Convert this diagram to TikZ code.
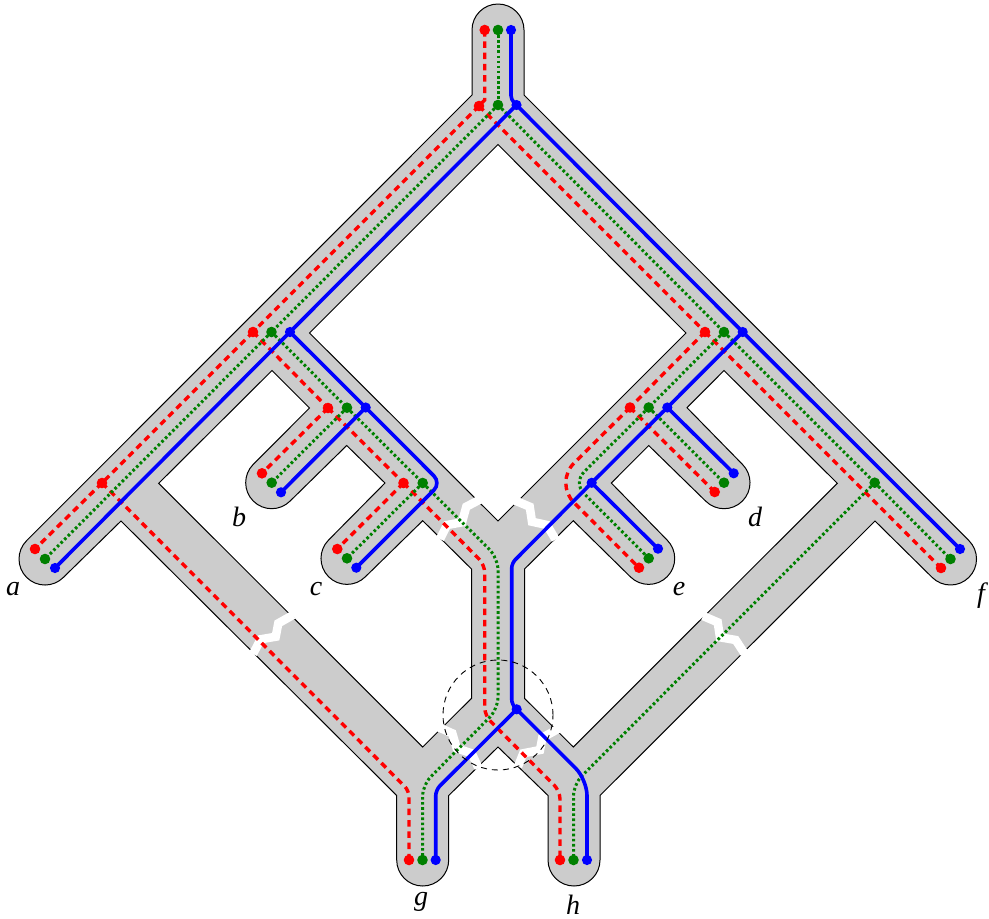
\documentclass[tikz,border=0pt]{standalone}
\usepackage{fontspec}
\setmainfont{Liberation Serif}
\definecolor{bandgray}{HTML}{CCCCCC}
\definecolor{dgreen}{HTML}{008000}
\tikzset{
  band/.style={fill=bandgray,draw=black,line width=1pt,even odd rule,line join=miter},
  tear/.style={draw=white,line width=8.5pt,line join=miter},
  redline/.style={draw=red,line width=3.4pt,dash pattern=on 6.5pt off 4.8pt},
  greenline/.style={draw=dgreen,line width=3pt,dash pattern=on 2.6pt off 2.5pt},
  blueline/.style={draw=blue,line width=3.6pt},
  rdot/.style={circle,fill=red,inner sep=0pt,minimum size=10.6pt},
  gdot/.style={circle,fill=dgreen,inner sep=0pt,minimum size=10.6pt},
  bdot/.style={circle,fill=blue,inner sep=0pt,minimum size=10.2pt},
  lab/.style={font=\fontsize{28}{32}\selectfont\itshape,inner sep=0pt},
  zoomring/.style={draw=black,line width=0.9pt,dash pattern=on 6pt off 5pt}
}
\begin{document}
\begin{tikzpicture}[x=1pt,y=1pt,yscale=-1]
\useasboundingbox (0,0) rectangle (989,919);
% grey network
\path[band]
  (472,30) arc[start angle=180,end angle=360,radius=26]
  -- (524,95) -- (968.9,540.6) arc[start angle=-45,end angle=135,radius=26]
  -- (875,521) -- (600,795.5) -- (600,860) arc[start angle=0,end angle=180,radius=26]
  -- (548,795.5) -- (498,747) -- (448.7,795.5) -- (448.7,860) arc[start angle=0,end angle=180,radius=26]
  -- (396.7,795.5) -- (121,521) -- (63.4,577.4) arc[start angle=45,end angle=225,radius=26]
  -- (472,95) -- cycle
  (498,144.5) -- (686,333) -- (498,521) -- (309.5,333) -- cycle
  (272,370.5) -- (309.5,408) -- (253.3,464.3) arc[start angle=225,end angle=45,radius=26]
  -- (346.7,445.5) -- (385,483) -- (328.6,540) arc[start angle=225,end angle=45,radius=26]
  -- (422.7,520.7) -- (471.5,569) -- (471.5,698.3) -- (422.7,747) -- (158.7,483.3) -- cycle
  (724,370.5) -- (687,407.7) -- (742.4,464.3) arc[start angle=-45,end angle=135,radius=26]
  -- (648.7,445.5) -- (611.3,483) -- (667.1,540) arc[start angle=-45,end angle=135,radius=26]
  -- (573.3,520.7) -- (524.5,569) -- (524.5,698.3) -- (573.3,747) -- (837.3,483.3) -- cycle;
% tears
\draw[tear] (253,654) -- (260.7,639.3) -- (275.7,636.7) -- (278.3,623.3) -- (293,615);
\draw[tear] (703,616) -- (717.7,622.3) -- (720,637.3) -- (735.7,640) -- (744.5,653.5);
\draw[tear] (440,539) -- (447,525) -- (462,522.3) -- (466.3,506.7) -- (480,499.5);
\draw[tear] (515,500.5) -- (529.7,506.7) -- (532,521.7) -- (547,525) -- (555.5,539.5);
\draw[tear] (438,727) -- (452.3,733.3) -- (456.7,748.3) -- (471.7,753.3) -- (478.5,768);
\draw[tear] (518,766.5) -- (523.3,753.3) -- (540,750) -- (542.3,737.7) -- (558,729);
% point positions
\foreach \n/\x/\y in {rT/484.7/30,rJ/479/106,rL/253/332,rX/102/483,rB/328/408,rC/403.5/483,rR/705/332,rD/630/407.5,
  ra/35/549,rb/262/473.3,rc/337.3/549,rd/714.7/492,re/639/567.7,rf/941/568,rg/409/860,rh/560/860,
  gT/498/30,gJ/498/105,gL/271.5/332,gB/347/407.7,gC/422.7/483,gR/724/332,gD/648.7/407.5,gF/874.7/482.7,
  ga/45/559,gb/271.7/482.7,gc/347/558.3,gd/724/482.7,ge/648.7/558.3,gf/950.5/559,gg/422.5/860,gh/573.5/860,
  bT/511/30,bJ/516.5/105,bL/290/332,bB/365.7/407.5,bR/742.7/332,bD/667.3/407.5,bE/591.7/482.8,bM/516.7/709.3,
  ba/55/568,bb/281/492.3,bc/356.3/567.7,bd/733.7/473.3,be/658/548.7,bf/960/549,bg/435.7/860,bh/587/860}
  {\coordinate (\n) at (\x,\y);}
% red
\draw[redline] (rT) -- (484.7,100) -- (rJ);
\draw[redline] (rJ) -- (rL);
\draw[redline] (rL) -- (rX);
\draw[redline] (rX) -- (ra);
\draw[redline] (rJ) -- (rR);
\draw[redline] (rR) -- (rf);
\draw[redline] (rL) -- (rB);
\draw[redline] (rB) -- (rC);
\draw[redline] (rB) -- (rb);
\draw[redline] (rC) -- (rc);
\draw[redline,rounded corners=8pt] (rC) -- (484.7,564.7) -- (484.7,715.5) -- (560,791) -- (rh);
\draw[redline,rounded corners=6pt] (rX) -- (409,790.7) -- (rg);
\draw[redline] (rR) -- (rD);
\draw[redline,rounded corners=28pt] (rD) -- (554.2,482.8) -- (re);
\draw[redline] (rD) -- (rd);
% green
\draw[greenline] (gT) -- (gJ);
\draw[greenline] (gJ) -- (gL);
\draw[greenline] (gL) -- (ga);
\draw[greenline] (gJ) -- (gR);
\draw[greenline] (gR) -- (gF);
\draw[greenline] (gF) -- (gf);
\draw[greenline] (gL) -- (gB);
\draw[greenline] (gB) -- (gC);
\draw[greenline] (gB) -- (gb);
\draw[greenline] (gC) -- (gc);
\draw[greenline,rounded corners=12pt] (gC) -- (498,558) -- (498,709) -- (422.5,785) -- (gg);
\draw[greenline] (gR) -- (gD);
\draw[greenline,rounded corners=15pt] (gD) -- (573.2,482.8) -- (ge);
\draw[greenline] (gD) -- (gd);
\draw[greenline,rounded corners=12pt] (gF) -- (573.5,784.2) -- (gh);
% blue
\draw[blueline,rounded corners=4pt] (bT) -- (511,99.5) -- (bJ);
\draw[blueline] (bJ) -- (bL);
\draw[blueline] (bL) -- (ba);
\draw[blueline] (bJ) -- (bR);
\draw[blueline] (bR) -- (bf);
\draw[blueline] (bL) -- (bB);
\draw[blueline,rounded corners=10pt] (bB) -- (441,483) -- (bc);
\draw[blueline] (bB) -- (bb);
\draw[blueline] (bR) -- (bD);
\draw[blueline] (bD) -- (bE);
\draw[blueline] (bE) -- (be);
\draw[blueline] (bD) -- (bd);
\draw[blueline,rounded corners=5pt] (bE) -- (511.7,563.3) -- (511.7,704.3) -- (bM);
\draw[blueline,rounded corners=6pt] (bM) -- (435.7,790) -- (bg);
\draw[blueline,rounded corners=16pt] (bM) -- (587,779.6) -- (bh);
% dots
\foreach \n in {rT,rJ,rL,rX,rB,rC,rR,rD,ra,rb,rc,rd,re,rf,rg,rh} \node[rdot] (n\n) at (\n) {};
\foreach \n in {gT,gJ,gL,gB,gC,gR,gD,gF,ga,gb,gc,gd,ge,gf,gg,gh} \node[gdot] (n\n) at (\n) {};
\foreach \n in {bT,bJ,bL,bB,bR,bD,bE,bM,ba,bb,bc,bd,be,bf,bg,bh} \node[bdot] (n\n) at (\n) {};
% ring
\node[circle,zoomring,minimum size=110pt,inner sep=0pt] (ring) at (498,715) {};
% labels
\node[lab] (la) at (13,589) {a};
\node[lab] (lb) at (239,517) {b};
\node[lab] (lc) at (316,589) {c};
\node[lab] (ld) at (755,517) {d};
\node[lab] (le) at (679,589) {e};
\node[lab] (lf) at (981,596) {f};
\node[lab] (lg) at (421,902) {g};
\node[lab] (lh) at (573,905) {h};
\end{tikzpicture}
\end{document}
